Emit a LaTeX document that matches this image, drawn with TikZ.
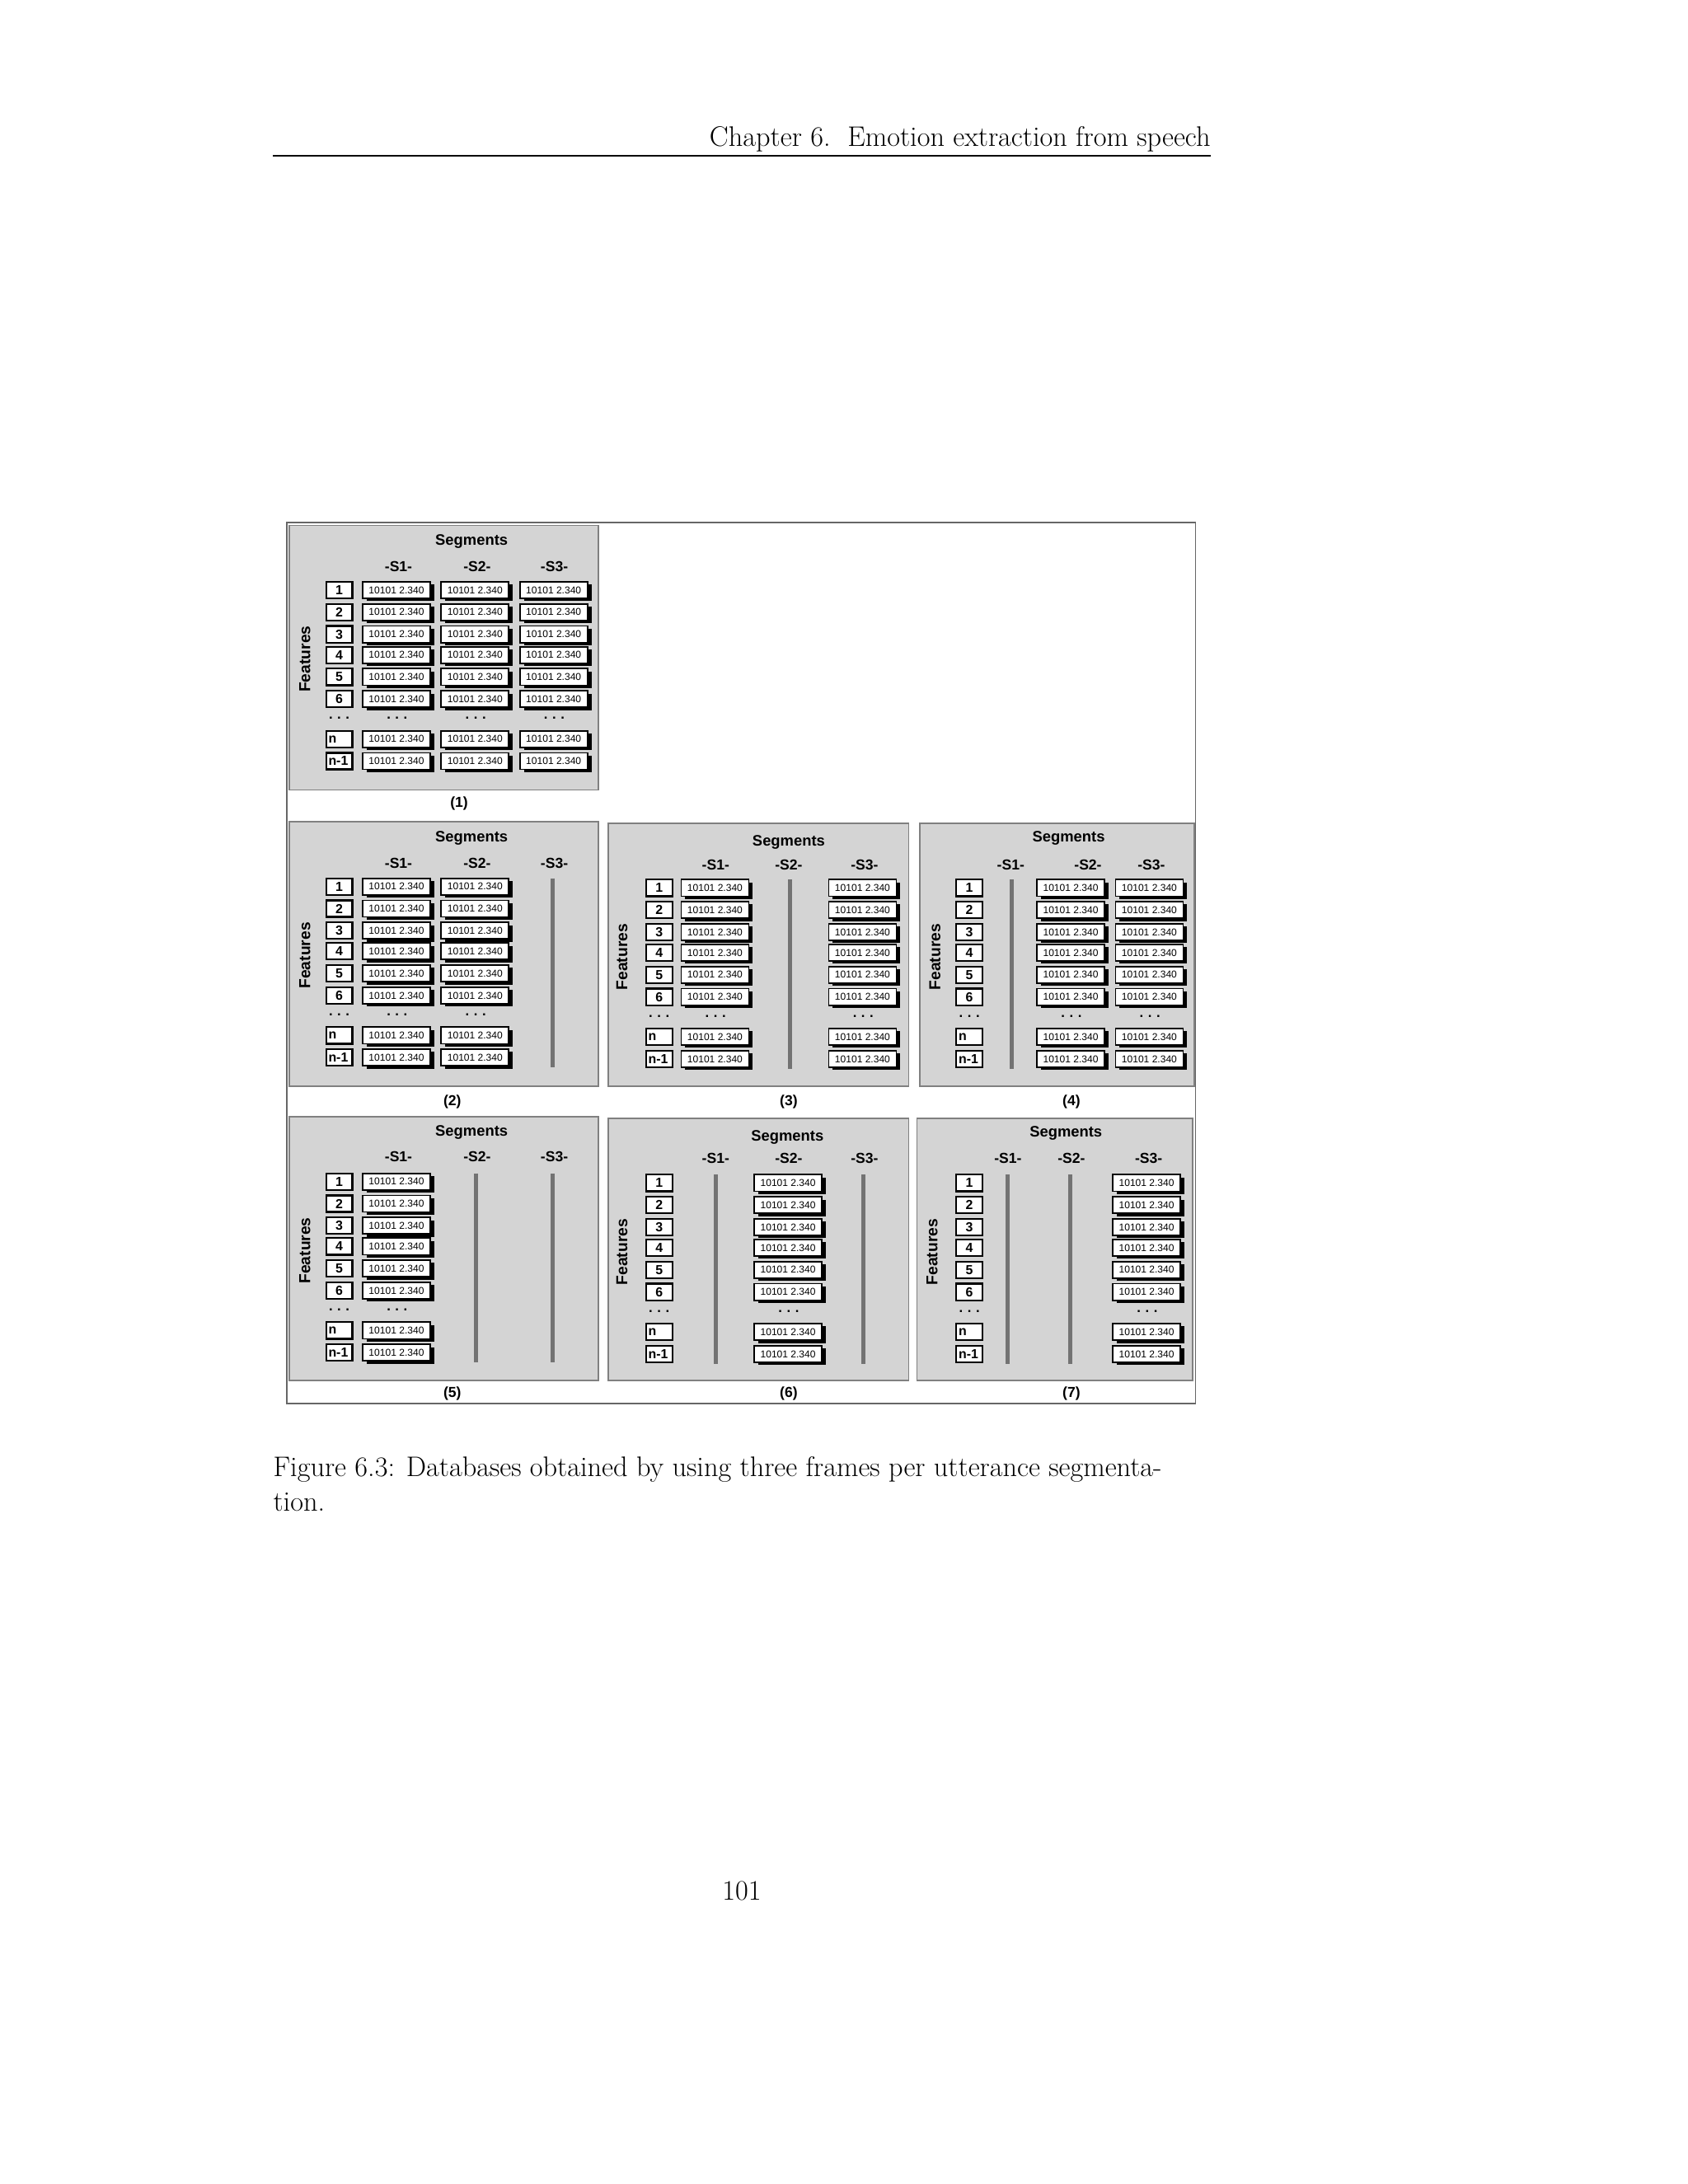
\documentclass[tikz,border=0pt]{standalone}
\usepackage{fontspec}
\newfontfamily\arial{Liberation Sans}
\begin{document}
\begin{tikzpicture}[x=1pt,y=-1pt,
 panel/.style={fill=black!17,draw=black!50,line width=1pt},
 valbox/.style={fill=white,draw=black,line width=1.1pt},
 numbox/.style={fill=white,draw=black,line width=1.3pt},
 valtxt/.style={font=\arial\fontsize{7.2}{8}\selectfont,inner sep=0},
 numtxt/.style={font=\arial\bfseries\fontsize{9.5}{10}\selectfont,inner sep=0},
 seg/.style={font=\arial\bfseries\fontsize{11}{12}\selectfont,inner sep=0},
 feat/.style={font=\arial\bfseries\fontsize{11.5}{12}\selectfont,inner sep=0},
 dotst/.style={font=\arial\bfseries\fontsize{10}{10}\selectfont,inner sep=0},
 lab/.style={font=\arial\bfseries\fontsize{10.5}{11}\selectfont,inner sep=0},
 serif/.style={font=\fontsize{20.5}{24}\selectfont,inner sep=0}]
\useasboundingbox (0,0) rectangle (1224,1584);
\newcommand\vb[2]{%
 \fill[black] (#1-22,#2-4) rectangle (#1+27,#2+8);
 \draw[valbox] (#1-25,#2-6) rectangle (#1+24,#2+6);
 \node[valtxt] at (#1-0.5,#2) {10101 2.340};}
\newcommand\valcol[2]{%
 \foreach \d in {0,16,32,47,63,79,108,124}{\vb{#1}{#2+\d}}
 \node[dotst] at (#1,#2+93) {.\,\,.\,\,.};}
\newcommand\barcol[2]{\draw[black!55,line width=3pt] (#1,#2-6) -- (#1,#2+131);}
\newcommand\numcol[2]{%
 \foreach \d/\t in {0/1,16/2,32/3,47/4,63/5,79/6}{
  \draw[numbox] (#1-9.5,#2+\d-6) rectangle (#1+9.5,#2+\d+6);
  \node[numtxt] at (#1,#2+\d) {\t};}
 \foreach \d/\t in {108/n,124/n-1}{
  \draw[numbox] (#1-9.5,#2+\d-6) rectangle (#1+9.5,#2+\d+6);
  \node[numtxt,anchor=west] at (#1-8,#2+\d) {\t};}
 \node[dotst] at (#1,#2+93) {.\,\,.\,\,.};}
\newcommand\heads[6]{% segx segy y s1 s2 s3
 \node[seg] at (#1,#2) {Segments};
 \node[lab] at (#4,#3) {-S1-}; \node[lab] at (#5,#3) {-S2-}; \node[lab] at (#6,#3) {-S3-};}
\newcommand\feat[2]{\node[feat,rotate=90] at (#1,#2) {Features};}
% header
\node[serif,anchor=base east] (hdr) at (878,106) {Chapter 6.\ \ Emotion extraction from speech};
\draw[line width=0.7pt] (198,113) -- (878,113);
% outer frame
\draw[black!60,line width=0.8pt] (208,379) rectangle (867,1018);
% panels
\draw[panel] (210,381) rectangle (434,573);
\draw[panel] (210,596) rectangle (434,788);
\draw[panel] (441,597) rectangle (659,788);
\draw[panel] (667,597) rectangle (866,788);
\draw[panel] (210,810) rectangle (434,1001);
\draw[panel] (441,811) rectangle (659,1001);
\draw[panel] (665,811) rectangle (865,1001);
% (1)
\heads{342}{393}{411}{289}{346}{402}
\feat{221}{478}
\numcol{246}{428} \valcol{288}{428} \valcol{345}{428} \valcol{402}{428}
\node[lab] at (333,583) {(1)};
% (2)
\heads{342}{608}{626}{289}{346}{402}
\feat{221}{693}
\numcol{246}{643} \valcol{288}{643} \valcol{345}{643} \barcol{401}{643}
\node[lab] at (328,799) {(2)};
% (3)
\heads{572}{611}{627}{519}{572}{627}
\feat{451}{694}
\numcol{478}{644} \valcol{519}{644} \barcol{573}{644} \valcol{626}{644}
\node[lab] at (572,799) {(3)};
% (4)
\heads{775}{608}{627}{733}{789}{835}
\feat{678}{694}
\numcol{703}{644} \barcol{734}{644} \valcol{777}{644} \valcol{834}{644}
\node[lab] at (777,799) {(4)};
% (5)
\heads{342}{821}{839}{289}{346}{402}
\feat{221}{907}
\numcol{246}{857} \valcol{288}{857} \barcol{345}{857} \barcol{401}{857}
\node[lab] at (328,1011) {(5)};
% (6)
\heads{571}{825}{840}{519}{572}{627}
\feat{451}{908}
\numcol{478}{858} \barcol{519}{858} \valcol{572}{858} \barcol{626}{858}
\node[lab] at (572,1011) {(6)};
% (7)
\heads{773}{822}{840}{731}{777}{833}
\feat{676}{908}
\numcol{703}{858} \barcol{731}{858} \barcol{776}{858} \valcol{832}{858}
\node[lab] at (777,1011) {(7)};
% caption
\node[serif,anchor=base west] (cap1) at (198,1071) {Figure 6.3: Databases obtained by using three frames per utterance segmenta-};
\node[serif,anchor=base west] (cap2) at (198,1096) {tion.};
\node[serif,anchor=base] (pg) at (538,1378) {101};
\end{tikzpicture}
\end{document}
